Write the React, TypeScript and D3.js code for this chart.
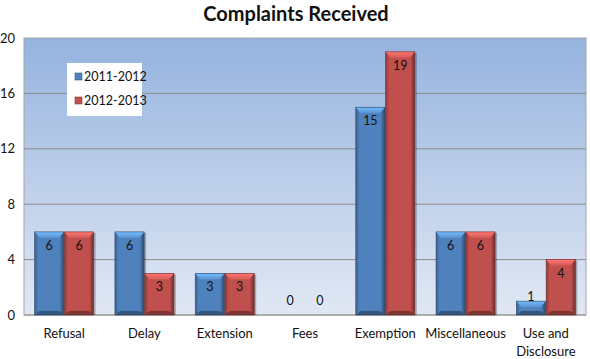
import React, { useEffect, useRef } from "react";
import * as d3 from "d3";

const categories = ["Refusal", "Delay", "Extension", "Fees", "Exemption", "Miscellaneous", "Use and Disclosure"];
const seriesNames = ["2011-2012", "2012-2013"];
const values2011 = [6, 6, 3, 0, 15, 6, 1];
const values2012 = [6, 3, 3, 0, 19, 6, 4];
const yTicks = [0, 4, 8, 12, 16, 20];

const colors = ["#4f81bd", "#c0504d"];
const font = "Lato, 'Open Sans', sans-serif";

const App = () => {
  const ref = useRef<SVGSVGElement>(null);

  useEffect(() => {
    const width = 590;
    const height = 359;
    const margin = { top: 38, right: 4, bottom: 44, left: 24 };
    const innerW = width - margin.left - margin.right;
    const innerH = height - margin.top - margin.bottom;

    const svg = d3.select(ref.current);
    svg.selectAll("*").remove();

    const defs = svg.append("defs");
    const bg = defs.append("linearGradient").attr("id", "bg").attr("x1", 0).attr("y1", 0).attr("x2", 0).attr("y2", 1);
    bg.append("stop").attr("offset", "0%").attr("stop-color", "#95b3df");
    bg.append("stop").attr("offset", "100%").attr("stop-color", "#e1e8f4");

    colors.forEach((c, i) => {
      const g = defs.append("linearGradient").attr("id", "bar" + i).attr("x1", 0).attr("x2", 1).attr("y1", 0).attr("y2", 0);
      g.append("stop").attr("offset", "0%").attr("stop-color", d3.color(c)!.darker(0.9).toString());
      g.append("stop").attr("offset", "12%").attr("stop-color", c);
      g.append("stop").attr("offset", "85%").attr("stop-color", c);
      g.append("stop").attr("offset", "100%").attr("stop-color", d3.color(c)!.darker(1.6).toString());
      const t = defs.append("linearGradient").attr("id", "top" + i).attr("x1", 0).attr("x2", 0).attr("y1", 0).attr("y2", 1);
      t.append("stop").attr("offset", "0%").attr("stop-color", d3.color(c)!.brighter(1.1).toString());
      t.append("stop").attr("offset", "100%").attr("stop-color", d3.color(c)!.brighter(0.3).toString());
    });

    svg.append("text")
      .attr("x", 296).attr("y", 21)
      .attr("text-anchor", "middle")
      .attr("font-family", font).attr("font-weight", "bold").attr("font-size", 20)
      .attr("fill", "#111")
      .text("Complaints Received");

    const g = svg.append("g").attr("transform", `translate(${margin.left},${margin.top})`);

    const x0 = d3.scaleBand().domain(categories).range([0, innerW]).paddingInner(0.25).paddingOuter(0.125);
    const x1 = d3.scaleBand().domain(seriesNames).range([0, x0.bandwidth()]).padding(0.02);
    const y = d3.scaleLinear().domain([0, 20]).range([innerH, 0]);

    g.append("rect").attr("width", innerW).attr("height", innerH)
      .attr("fill", "url(#bg)").attr("stroke", "#a6a6a6");

    g.selectAll(".grid").data(yTicks.filter((t) => t > 0 && t < 20)).enter().append("line")
      .attr("x1", 0).attr("x2", innerW)
      .attr("y1", (d) => y(d)).attr("y2", (d) => y(d))
      .attr("stroke", "#8c8c8c").attr("stroke-width", 1);

    g.append("line").attr("x1", 0).attr("x2", innerW).attr("y1", innerH).attr("y2", innerH).attr("stroke", "#8c8c8c");

    const yAxis = g.append("g").call(d3.axisLeft(y).tickValues(yTicks).tickSize(0).tickPadding(9));
    yAxis.select(".domain").remove();
    yAxis.selectAll("text").attr("font-family", font).attr("font-size", 13).attr("fill", "#111");

    const xAxis = g.append("g").attr("transform", `translate(0,${innerH})`)
      .call(d3.axisBottom(x0).tickSize(0).tickPadding(14).tickFormat(() => ""));
    xAxis.select(".domain").remove();
    xAxis.selectAll(".tick").each(function (d) {
      const label = String(d);
      const lines = label === "Use and Disclosure" ? ["Use and", "Disclosure"] : [label];
      const t = d3.select(this).select("text").attr("font-family", font).attr("font-size", 13).attr("fill", "#111");
      lines.forEach((l, i) => {
        t.append("tspan").attr("x", 0).attr("dy", i === 0 ? "0.71em" : "1.4em").text(l);
      });
    });

    const series = [values2011, values2012];
    categories.forEach((cat, ci) => {
      series.forEach((vals, si) => {
        const v = vals[ci];
        const bx = (x0(cat) ?? 0) + (x1(seriesNames[si]) ?? 0);
        const bw = x1.bandwidth();
        const by = y(v);
        const bh = innerH - by;
        const c = colors[si];
        const bar = g.append("g");
        if (bh > 0) {
          bar.append("rect").attr("x", bx + 2).attr("y", by + 1).attr("width", bw).attr("height", bh - 1)
            .attr("fill", "rgba(0,0,0,0.25)");
          bar.append("rect").attr("x", bx).attr("y", by).attr("width", bw).attr("height", bh)
            .attr("fill", `url(#bar${si})`);
          const bev = Math.min(6, bh / 2);
          bar.append("path")
            .attr("d", `M${bx},${by}L${bx + bw},${by}L${bx + bw - 5},${by + bev}L${bx + 5},${by + bev}Z`)
            .attr("fill", `url(#top${si})`);
          bar.append("path")
            .attr("d", `M${bx},${by + bh}L${bx + bw},${by + bh}L${bx + bw - 5},${by + bh - Math.min(4, bh / 2)}L${bx + 5},${by + bh - Math.min(4, bh / 2)}Z`)
            .attr("fill", d3.color(c)!.darker(1.2).toString());
          bar.append("rect").attr("x", bx).attr("y", by).attr("width", bw).attr("height", bh)
            .attr("fill", "none").attr("stroke", d3.color(c)!.darker(1.5).toString()).attr("stroke-width", 0.6);
        }
        const ly = bh > 20 ? by + 18 : Math.min(by, innerH - 10);
        g.append("text").attr("x", bx + bw / 2).attr("y", ly)
          .attr("text-anchor", "middle")
          .attr("font-family", font).attr("font-size", 12.5).attr("fill", "#111")
          .text(v);
      });
    });

    // legend
    const lg = svg.append("g").attr("transform", "translate(67,63)");
    lg.append("rect").attr("width", 75).attr("height", 53).attr("fill", "#fff");
    seriesNames.forEach((s, i) => {
      const row = lg.append("g").attr("transform", `translate(8,${14 + i * 24})`);
      row.append("rect").attr("x", 0).attr("y", -4).attr("width", 7).attr("height", 7)
        .attr("fill", colors[i]).attr("stroke", d3.color(colors[i])!.darker(1).toString()).attr("stroke-width", 0.6);
      row.append("text").attr("x", 9).attr("y", 0).attr("dy", "0.35em")
        .attr("font-family", font).attr("font-size", 12.5).attr("fill", "#111").text(s);
    });
  }, []);

  return <svg ref={ref} width={590} height={359} style={{ position: "absolute", left: 0, top: 0 }} />;
};

export default App;
